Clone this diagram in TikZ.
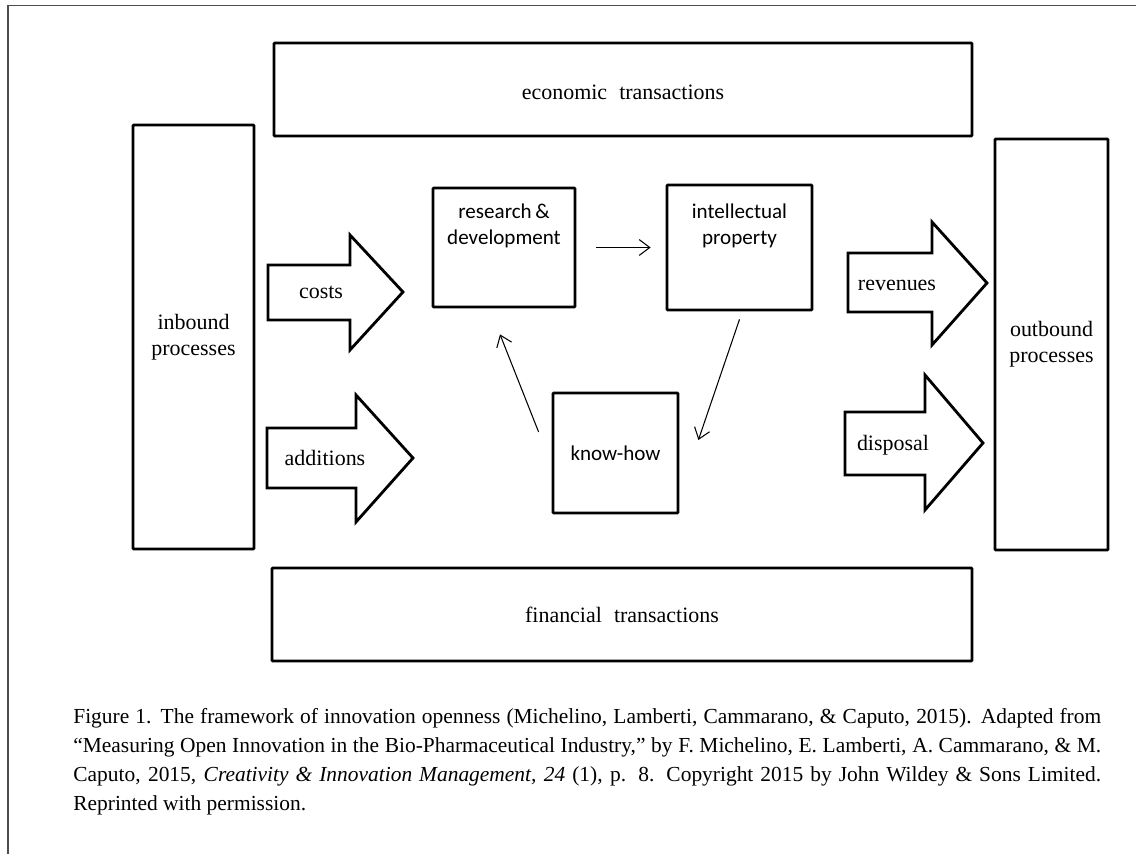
\documentclass[tikz,border=0pt]{standalone}
\usepackage{fontspec}
\setmainfont{Liberation Serif}
\newfontfamily\boxfont{Carlito}
\usetikzlibrary{arrows.meta,positioning}

\begin{document}
\begin{tikzpicture}[x=0.02cm, y=-0.02cm,
    box/.style={draw, line width=1.6pt, rounded corners=0.5pt, inner sep=0pt},
    blk/.style={draw, line width=1.6pt, line join=miter},
    conn/.style={-{Straight Barb[length=6pt,width=9pt]}, line width=0.6pt},
    lbl/.style={font=\fontsize{12.5}{15}\selectfont, align=center, inner sep=0pt},
    clbl/.style={font=\boxfont\fontsize{12}{14.5}\selectfont, align=center, inner sep=0pt}]
    \useasboundingbox (0,0) rectangle (1136,854);

    % page frame
    \draw[gray!60!black, line width=0.6pt] (1136,5.5) -- (8,5.5) -- (8,854);

    % outer boxes
    \node[box, minimum width=13.96cm, minimum height=1.86cm] (econ) at (623,89.5) {};
    \node[lbl] at ([yshift=-0.05cm]econ) {economic\hspace{0.55em}transactions};
    \node[box, minimum width=14cm, minimum height=1.86cm] (fin) at (622,614.5) {};
    \node[lbl] at (fin) {financial\hspace{0.55em}transactions};
    \node[box, minimum width=2.42cm, minimum height=8.48cm] (inb) at (193.5,337) {};
    \node[lbl] at (inb) {inbound\\processes};
    \node[box, minimum width=2.26cm, minimum height=8.22cm] (outb) at (1051.5,344.5) {};
    \node[lbl] at (outb) {outbound\\processes};

    % inner boxes
    \node[box, minimum width=2.84cm, minimum height=2.38cm] (rd) at (504,247.5) {};
    \node[clbl, anchor=north] at ([yshift=-0.34cm]rd.north) {research\,\&\\development};
    \node[box, minimum width=2.9cm, minimum height=2.5cm] (ip) at (739.5,247.5) {};
    \node[clbl, anchor=north] at ([yshift=-0.4cm]ip.north) {intellectual\\property};
    \node[box, minimum width=2.5cm, minimum height=2.4cm] (kh) at (615.5,453) {};
    \node[clbl] at (kh) {know-how};

    % block arrows
    \draw[blk] (268,265) -- (350,265) -- (350,235) -- (403,292) -- (350,350) -- (350,320) -- (268,320) -- cycle;
    \node[lbl] (costs) at (321,292) {costs};
    \draw[blk] (267,428) -- (356,428) -- (356,395) -- (413,458) -- (356,522) -- (356,488) -- (267,488) -- cycle;
    \node[lbl] (additions) at (325,458) {additions};
    \draw[blk] (848,253) -- (932,253) -- (932,222) -- (987,283) -- (932,345) -- (932,312) -- (848,312) -- cycle;
    \node[lbl] (revenues) at (897,285) {revenues};
    \draw[blk] (845,412) -- (925,412) -- (925,375) -- (983,443) -- (925,510) -- (925,475) -- (845,475) -- cycle;
    \node[lbl] (disposal) at (893,445) {disposal};

    % cycle between the inner boxes
    \draw[conn, shorten <=0.4cm, shorten >=0.3cm] (rd.east) -- (ip.west);
    \draw[conn] ([yshift=-0.16cm]ip.south) -- ([xshift=0.38cm,yshift=0.26cm]kh.east);
    \draw[conn] ([xshift=-0.26cm,yshift=0.42cm]kh.west) -- ([xshift=-0.08cm,yshift=-0.52cm]rd.south);

    % caption
    \node[anchor=north west, text width=20.56cm, align=justify, inner sep=0pt,
          font=\fontsize{12.2}{16.6}\selectfont] (cap) at (73,708)
    {Figure 1. The framework of innovation openness (Michelino, Lamberti, Cammarano, \& Caputo, 2015). Adapted from\linebreak
     ``Measuring Open Innovation in the Bio-Pharmaceutical Industry,'' by F. Michelino, E. Lamberti, A. Cammarano, \& M.\linebreak
     Caputo, 2015, \textit{Creativity \& Innovation Management, 24} (1), p. 8. Copyright 2015 by John Wildey \& Sons Limited.\linebreak
     Reprinted with permission.};
\end{tikzpicture}
\end{document}
